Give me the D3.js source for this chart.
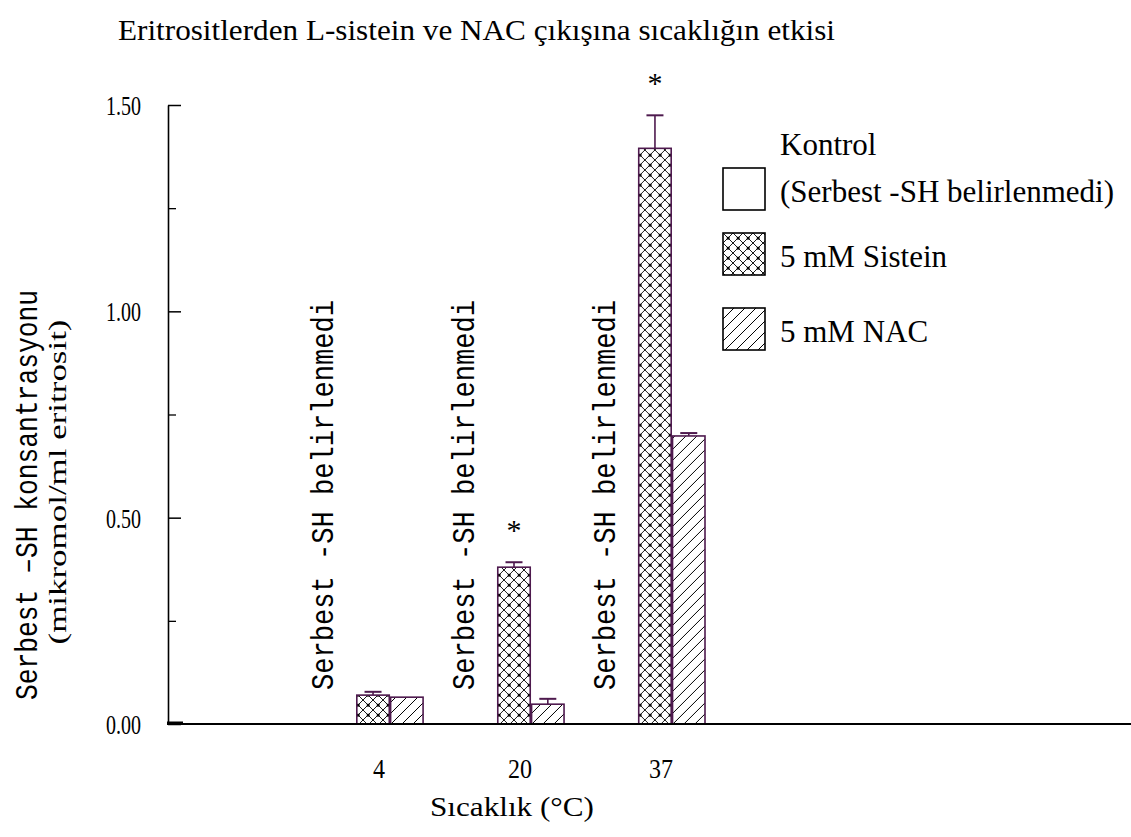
<!DOCTYPE html>
<html>
<head>
<meta charset="utf-8">
<script src="https://cdn.jsdelivr.net/npm/d3@7"></script>
<style>
  body { margin: 0; background: #fff; }
  text { fill: #000; }
</style>
</head>
<body>
<svg width="1131" height="837"></svg>
<script>
// data
const temps = ["4", "20", "37"];
const seriesNames = ["Kontrol", "Sistein", "NAC"];
const kontrol = [null, null, null];          // not determined
const sistein = [0.07, 0.38, 1.395];
const sisteinErr = [0.008, 0.012, 0.08];
const nac = [0.065, 0.048, 0.698];
const nacErr = [0, 0.013, 0.007];
const signif = [false, true, true];          // asterisk above Sistein
const yMajor = [0, 0.5, 1.0, 1.5];
const yMinor = [0.25, 0.75, 1.25];
const legendLabels = [["Kontrol", "(Serbest -SH belirlenmedi)"], ["5 mM Sistein"], ["5 mM NAC"]];

const purple = "#4e1a4e";
const serif = "'Liberation Serif', 'Times New Roman', serif";
const mono = "'Liberation Mono', 'Courier New', monospace";

const svg = d3.select("svg");
const W = 1131;

// scales
const y = d3.scaleLinear().domain([0, 1.5]).range([724, 105]);
const x0 = d3.scaleBand().domain(temps).range([323, 705]).paddingInner(0.29).paddingOuter(0);
const x1 = d3.scaleBand().domain(seriesNames).range([0, x0.bandwidth()]).paddingInner(0.04);

// patterns
const defs = svg.append("defs");
const cross = defs.append("pattern").attr("id", "cross")
  .attr("patternUnits", "userSpaceOnUse").attr("width", 10).attr("height", 10);
cross.append("rect").attr("width", 10).attr("height", 10).attr("fill", "#fff");
cross.append("path").attr("d", "M0,0L10,10M10,0L0,10").attr("stroke", "#000").attr("stroke-width", 0.9);
cross.append("rect").attr("x", 3.8).attr("y", 3.8).attr("width", 2.8).attr("height", 2.8).attr("fill", "#000");
const hatch = defs.append("pattern").attr("id", "hatch")
  .attr("patternUnits", "userSpaceOnUse").attr("width", 11).attr("height", 11);
hatch.append("rect").attr("width", 11).attr("height", 11).attr("fill", "#fff");
hatch.append("path").attr("d", "M0,11L11,0M-3,3L3,-3M8,14L14,8").attr("stroke", "#000").attr("stroke-width", 1);

const fills = { Kontrol: "#fff", Sistein: "url(#cross)", NAC: "url(#hatch)" };

// title
svg.append("text").attr("x", 118).attr("y", 40)
  .attr("textLength", 717).attr("lengthAdjust", "spacingAndGlyphs")
  .style("font-family", serif).style("font-size", "29px")
  .text("Eritrositlerden L-sistein ve NAC çıkışına sıcaklığın etkisi");

// bars
const rows = temps.map((t, i) => ({
  t: t,
  vals: [
    { key: "Kontrol", v: kontrol[i], e: 0 },
    { key: "Sistein", v: sistein[i], e: sisteinErr[i], star: signif[i] },
    { key: "NAC", v: nac[i], e: nacErr[i] }
  ]
}));

const grp = svg.selectAll(".grp").data(rows).enter().append("g")
  .attr("class", "grp")
  .attr("transform", d => `translate(${x0(d.t)},0)`);

const items = grp.selectAll(".item").data(d => d.vals).enter().append("g").attr("class", "item");

items.filter(d => d.v != null).append("rect")
  .attr("x", d => x1(d.key))
  .attr("y", d => y(d.v))
  .attr("width", x1.bandwidth())
  .attr("height", d => y(0) - y(d.v))
  .attr("fill", d => fills[d.key])
  .attr("stroke", purple).attr("stroke-width", 1.6);

// error bars
const eb = items.filter(d => d.v != null && d.e > 0);
eb.append("line")
  .attr("x1", d => x1(d.key) + x1.bandwidth() / 2)
  .attr("x2", d => x1(d.key) + x1.bandwidth() / 2)
  .attr("y1", d => y(d.v)).attr("y2", d => y(d.v + d.e))
  .attr("stroke", purple).attr("stroke-width", 1.6);
eb.append("line")
  .attr("x1", d => x1(d.key) + x1.bandwidth() / 2 - 8.5)
  .attr("x2", d => x1(d.key) + x1.bandwidth() / 2 + 8.5)
  .attr("y1", d => y(d.v + d.e)).attr("y2", d => y(d.v + d.e))
  .attr("stroke", purple).attr("stroke-width", 2);

// asterisks
items.filter(d => d.star).append("text")
  .attr("x", d => x1(d.key) + x1.bandwidth() / 2)
  .attr("y", d => y(d.v + d.e) - 22)
  .attr("text-anchor", "middle")
  .style("font-family", serif).style("font-size", "30px")
  .text("*");

// "not determined" labels for Kontrol
items.filter(d => d.v == null).append("text")
  .attr("transform", d => `translate(${x1(d.key) + 10},${y(0) - 34}) rotate(-90)`)
  .attr("textLength", 390).attr("lengthAdjust", "spacingAndGlyphs")
  .style("font-family", mono).style("font-size", "32px")
  .text("Serbest -SH belirlenmedi");

// y axis
const yAxis = svg.append("g").attr("transform", "translate(168,0)")
  .call(d3.axisLeft(y).tickValues(yMajor).tickFormat(d3.format(".2f"))
    .tickSizeInner(-13).tickSizeOuter(0).tickPadding(27));
yAxis.select(".domain").attr("stroke", "#000").attr("stroke-width", 1.6);
yAxis.selectAll(".tick line").attr("stroke", "#000").attr("stroke-width", 1.5);
yAxis.selectAll(".tick text").style("font-family", serif).style("font-size", "27px")
  .attr("dy", "0.35em").attr("textLength", 35).attr("lengthAdjust", "spacingAndGlyphs");

const yMinorAxis = svg.append("g").attr("transform", "translate(168,0)")
  .call(d3.axisLeft(y).tickValues(yMinor).tickFormat("").tickSizeInner(-8).tickSizeOuter(0));
yMinorAxis.select(".domain").remove();
yMinorAxis.selectAll(".tick line").attr("stroke", "#000").attr("stroke-width", 1.3);

// x axis baseline to right edge
svg.append("line").attr("x1", 167).attr("x2", W).attr("y1", y(0)).attr("y2", y(0))
  .attr("stroke", "#000").attr("stroke-width", 2.2);
svg.append("line").attr("x1", 167).attr("x2", 183).attr("y1", y(0) - 1).attr("y2", y(0) - 1)
  .attr("stroke", "#000").attr("stroke-width", 3);

const xAxis = svg.append("g").attr("transform", `translate(6,${y(0)})`)
  .call(d3.axisBottom(x0).tickSize(0).tickPadding(34));
xAxis.select(".domain").remove();
xAxis.selectAll(".tick text").style("font-family", serif).style("font-size", "28px")
  .attr("dy", "0.71em")
  .attr("textLength", d => d.length * 12).attr("lengthAdjust", "spacingAndGlyphs");

// axis titles
svg.append("text").attr("x", 512).attr("y", 816).attr("text-anchor", "middle")
  .attr("textLength", 164).attr("lengthAdjust", "spacingAndGlyphs")
  .style("font-family", serif).style("font-size", "28px")
  .text("Sıcaklık (°C)");

svg.append("text").attr("transform", "translate(37,495) rotate(-90)").attr("text-anchor", "middle")
  .attr("textLength", 410).attr("lengthAdjust", "spacingAndGlyphs")
  .style("font-family", mono).style("font-size", "32px")
  .text("Serbest –SH konsantrasyonu");
svg.append("text").attr("transform", "translate(66,482) rotate(-90)").attr("text-anchor", "middle")
  .attr("textLength", 325).attr("lengthAdjust", "spacingAndGlyphs")
  .style("font-family", serif).style("font-size", "26px")
  .text("(mikromol/ml eritrosit)");

// legend
const legY = [168, 233, 308];
const legFill = ["#fff", "url(#cross)", "url(#hatch)"];
const leg = svg.selectAll(".leg").data(legendLabels).enter().append("g")
  .attr("class", "leg").attr("transform", (d, i) => `translate(723,${legY[i]})`);
leg.append("rect").attr("width", 42).attr("height", 42)
  .attr("fill", (d, i) => legFill[i]).attr("stroke", "#000").attr("stroke-width", 1.6);
leg.each(function(d) {
  const g = d3.select(this);
  const lines = d.length === 2 ? [[-13, d[0]], [34, d[1]]] : [[34, d[0]]];
  lines.forEach(([dy, s]) => {
    g.append("text").attr("x", 57).attr("y", dy)
      .style("font-family", serif).style("font-size", "31px").text(s);
  });
});
</script>
</body>
</html>
